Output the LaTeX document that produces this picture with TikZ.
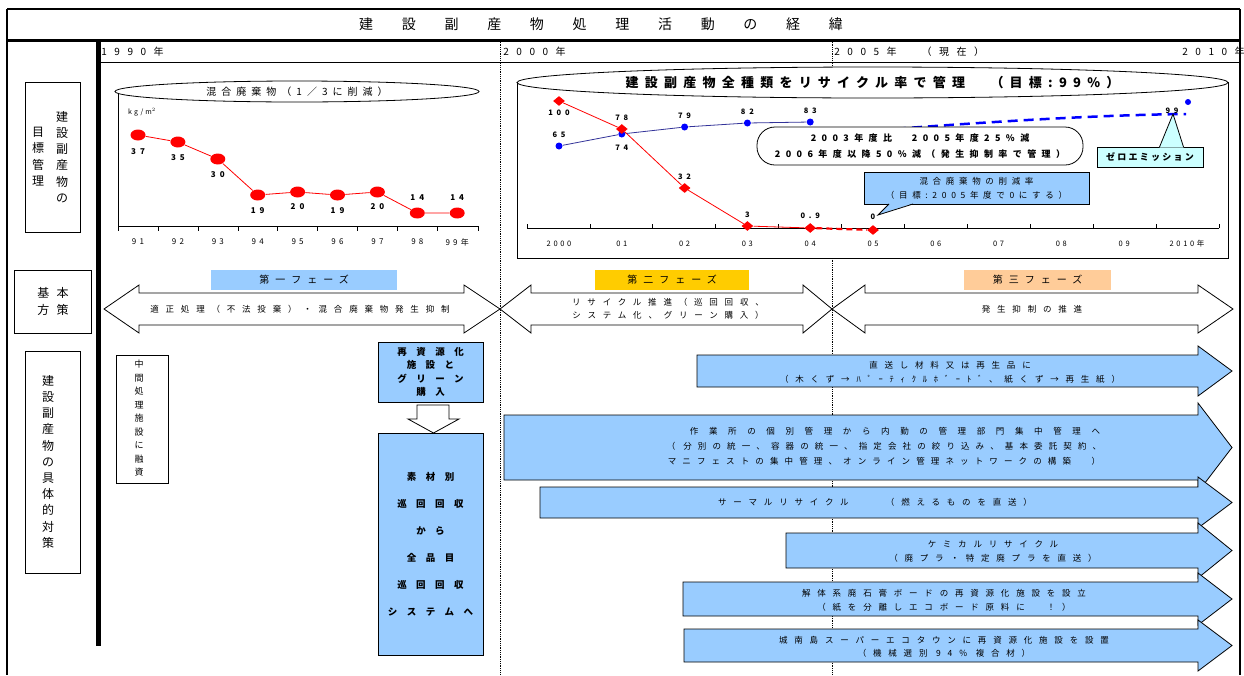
\documentclass[tikz,border=0pt]{standalone}
\usepackage{fontspec}
\setmainfont{Noto Sans CJK JP}
\usetikzlibrary{shapes.geometric, positioning}
\definecolor{phblue}{RGB}{153,204,255}
\definecolor{phgold}{RGB}{255,204,0}
\definecolor{phpeach}{RGB}{255,204,153}
\definecolor{emicyan}{RGB}{204,255,255}
\definecolor{rateblue}{RGB}{51,51,153}
\newcommand{\ls}[1]{\addfontfeature{LetterSpace=#1}}

\begin{document}
\begin{tikzpicture}[x=1pt, y=-1pt, line width=0.8pt,
  every node/.style={inner sep=0pt},
  txt/.style={font=\fontsize{8.5}{13}\selectfont\ls{80}, align=center},
  yr/.style={font=\fontsize{10}{12}\selectfont\ls{75}},
  vtxt/.style={font=\fontsize{12}{16.2}\selectfont, align=center, anchor=north},
  sidebox/.style={draw, rectangle, fill=white},
  val/.style={font=\fontsize{8}{9}\selectfont\bfseries\ls{50}},
  tickl/.style={font=\fontsize{8}{9}\selectfont\ls{40}},
  redpt/.style={ellipse, fill=red, minimum width=15, minimum height=11},
  reddia/.style={diamond, fill=red, minimum width=12, minimum height=10},
  bluept/.style={circle, fill=blue, minimum size=7},
  phase/.style={minimum height=20, font=\fontsize{10}{12}\selectfont\ls{60}},
  bold/.style={font=\fontsize{9.5}{13.3}\selectfont\bfseries\ls{100}, align=center}
]
\useasboundingbox (0,0) rectangle (1244,675);

% frame and time axis
\draw[line width=1.5pt] (7,9) -- (1240,9);
\draw[line width=1.5pt] (7,9) -- (7,675);
\draw[line width=1.5pt] (1240,9) -- (1240,675);
\draw[line width=3pt] (7,40) -- (1240,40);
\draw (98,62) -- (1240,62);
\draw[densely dotted] (500,40) -- (500,675);
\draw[densely dotted] (832,40) -- (832,675);
\draw[line width=5pt] (98,40) -- (98,646);

\node[font=\fontsize{14}{16}\selectfont\ls{205}] (title) at (601,24) {建設副産物処理活動の経緯};
\node[yr, anchor=west] (y1990) at (101,52) {1990年};
\node[yr, anchor=west] (y2000) at (503,52) {2000年};
\node[yr, anchor=west] (y2005) at (834,52) {2005年　（現在）};
\node[yr, anchor=east] (y2010) at (1245,52) {2010年};

% row headings
\node[sidebox, minimum width=55, minimum height=150] (goalbox) at (52.5,157) {};
\node[vtxt] (goal1) at (62,111) {建\\設\\副\\産\\物\\の};
\node[vtxt] (goal2) at (38,127) {目\\標\\管\\理};
\node[sidebox, minimum width=77, minimum height=63] (policybox) at (52.5,301.5) {};
\node[font=\fontsize{12}{17}\selectfont\ls{60}, align=center] (policy) at (53,301) {基本\\方策};
\node[sidebox, minimum width=55, minimum height=222] (measurebox) at (53,462) {};
\node[vtxt] (measure) at (48,375) {建\\設\\副\\産\\物\\の\\具\\体\\的\\対\\策};

% 1990s chart
\draw (118,92) -- (118,226) -- (478,226);
\foreach \x in {118,158,198,238,277,317,357,397,437,478}
  \draw (\x,226) -- (\x,231);
\node[draw, ellipse, fill=white, minimum width=364, minimum height=21,
  font=\fontsize{10}{11}\selectfont\ls{50}] (mixell) at (297,91.5) {混合廃棄物（1／3に削減）};
\node[font=\fontsize{7}{8}\selectfont\ls{30}] (unit) at (142,112) {kg/m$^2$};
\foreach \v/\yy/\ly/\t [count=\i] in {37/135/152/91, 35/142/158/92, 30/159/175/93,
    19/195/211/94, 20/192/207/95, 19/195/211/96, 20/192/207/97, 14/213/198/98, 14/213/198/99年} {
  \pgfmathsetmacro{\xx}{138+39.9*(\i-1)}
  \node[redpt] (m\i) at (\xx,\yy) {};
  \node[val] (mv\i) at (\xx,\ly) {\v};
  \node[tickl] (mt\i) at (\xx,242) {\t};
}
\draw[red] (m1) -- (m2) -- (m3) -- (m4) -- (m5) -- (m6) -- (m7) -- (m8) -- (m9);

% 2000s chart
\draw[fill=white] (517,82) rectangle (1228,258);
\node[draw, ellipse, fill=white, minimum width=711, minimum height=31,
  font=\fontsize{13}{15}\selectfont\bfseries\ls{48}] (allell) at (872.5,82.5)
  {建設副産物全種類をリサイクル率で管理　（目標:99\%）};
\draw (527,228) -- (1219,228);
\foreach \i in {0,...,11}
  \draw ({527+62.9*\i},228) -- ({527+62.9*\i},224);
\foreach \t [count=\i from 0] in {2000,01,02,03,04,05,06,07,08,09,2010年}
  \node[tickl, font=\fontsize{7.5}{9}\selectfont\ls{35}] (rt\i) at ({559+62.8*\i},244) {\t};

\foreach \yy/\v/\ly [count=\i from 0] in {146/65/135, 134/74/148, 127/79/116, 123/82/112, 122/83/111} {
  \node[bluept] (b\i) at ({559+62.8*\i},\yy) {};
  \node[val, font=\fontsize{7.5}{9}\selectfont\bfseries\ls{50}] (bv\i) at ({559+62.8*\i},\ly) {\v};
}
\draw[rateblue] (b0) -- (b1) -- (b2) -- (b3) -- (b4);
\coordinate (bstart) at (880,130);
\coordinate (b99) at (1186,114);
\draw[blue, line width=2.5pt, dash pattern=on 10pt off 6pt] (bstart) .. controls (1000,121) and (1100,115) .. (b99);
\node[bluept, minimum size=6] (bgoal) at (1188,102) {};
\node[val, font=\fontsize{7.5}{9}\selectfont\bfseries\ls{50}] (bv99) at (1172,111) {99};

\foreach \yy/\v/\ly [count=\i from 0] in {101/100/113, 129/78/118, 188/32/177, 226/3/215, 228/0.9/216, 230/0/217} {
  \node[reddia] (r\i) at ({559+62.8*\i},\yy) {};
  \node[val, font=\fontsize{7.5}{9}\selectfont\bfseries\ls{50}] (rv\i) at ({559+62.8*\i},\ly) {\v};
}
\draw[red] (r0) -- (r1) -- (r2) -- (r3) -- (r4);
\draw[red, line width=2.2pt, dash pattern=on 6pt off 4pt] (r4) -- (r5);

\node[draw, fill=white, rounded corners=18pt, minimum width=326, minimum height=38,
  font=\fontsize{9}{16}\selectfont\bfseries\ls{60}, align=center] (target) at (920,146)
  {2003年度比　2005年度25\%減\\2006年度以降50\%減（発生抑制率で管理）};

\node[draw, fill=emicyan, minimum width=106, minimum height=20,
  font=\fontsize{9}{11}\selectfont\bfseries\ls{25}] (zero) at (1150,157) {ゼロエミッション};
\fill[emicyan] (1159.5,147.5) -- (1173,114) -- (1183.5,147.5) -- cycle;
\draw (1159.5,147) -- (1173,114) -- (1183.5,147);

\node[draw, fill=phblue, minimum width=225, minimum height=32, txt,
  font=\fontsize{8.5}{14}\selectfont\ls{55}] (cutrate) at (976.5,188)
  {混合廃棄物の削減率\\（目標:2005年度で0にする）};
\fill[phblue] (889,203.5) -- (878,215) -- (913,203.5) -- cycle;
\draw (889,204) -- (878,215) -- (913,204);

% phases
\node[phase, fill=phblue, minimum width=186] (ph1) at (304,280) {第一フェーズ};
\node[phase, fill=phgold, minimum width=154] (ph2) at (672,280) {第二フェーズ};
\node[phase, fill=phpeach, minimum width=147] (ph3) at (1037.5,280) {第三フェーズ};
\foreach \a/\b/\c/\d in {104/139/464/500, 500/531/803/832, 832/865/1198/1233}
  \draw[fill=white] (\a,309) -- (\b,285) -- (\b,293) -- (\c,293) -- (\c,285) -- (\d,309)
    -- (\c,333) -- (\c,325) -- (\b,325) -- (\b,333) -- cycle;
\node[txt] (pol1) at (300,309) {適正処理（不法投棄）・混合廃棄物発生抑制};
\node[txt] (pol2) at (668,309) {リサイクル推進（巡回回収、\\システム化、グリーン購入）};
\node[txt] (pol3) at (1032,309) {発生抑制の推進};

% concrete measures, left
\node[sidebox, minimum width=52, minimum height=128] (midbox) at (142,419) {};
\node[vtxt, font=\fontsize{9}{13.5}\selectfont] (midtxt) at (139,360) {中\\間\\処\\理\\施\\設\\に\\融\\資};
\node[draw, fill=phblue, minimum width=105, minimum height=60, bold] (recyc) at (430.5,372)
  {再資源化\\施設と\\グリーン\\購入};
\draw[fill=white] (417,405) -- (449,405) -- (449,419) -- (459,419) -- (433.5,433)
  -- (408,419) -- (417,419) -- cycle;
\node[draw, fill=phblue, minimum width=105, minimum height=222, bold,
  font=\fontsize{9.5}{27}\selectfont\bfseries\ls{100}] (tour) at (430.5,544)
  {素材別\\巡回回収\\から\\全品目\\巡回回収\\システムへ};

% concrete measures, block arrows
\foreach \xl/\tp/\bt/\hx in {697/355/387/9, 504/415/480/12, 540/487/518/10,
    786/533/568/10, 683/582/616/9, 684/629/662/9} {
  \pgfmathsetmacro{\cy}{(\tp+\bt)/2}
  \draw[fill=phblue] (\xl,\tp) -- (1198,\tp) -- (1198,\tp-\hx) -- (1232,\cy)
    -- (1198,\bt+\hx) -- (1198,\bt) -- (\xl,\bt) -- cycle;
}
\node[txt, font=\fontsize{8.5}{14}\selectfont\ls{80}] (ms1) at (950,372)
  {直送し材料又は再生品に\\（木くず→ﾊﾟｰﾃｨｸﾙﾎﾞｰﾄﾞ、紙くず→再生紙）};
\node[txt, font=\fontsize{8.5}{15}\selectfont\ls{72}] (ms2) at (884,446)
  {{\hspace*{22pt}\ls{125}作業所の個別管理から内勤の管理部門集中管理へ}\\（ 分別の統一、容器の統一、指定会社の絞り込み、基本委託契約、\\マニフェストの集中管理、オンライン管理ネットワークの構築　）};
\node[txt] (ms3) at (875,502) {サーマルリサイクル　　（燃えるものを直送）};
\node[txt, font=\fontsize{8.5}{14}\selectfont\ls{80}] (ms4) at (993,551)
  {ケミカルリサイクル\\（廃プラ・特定廃プラを直送）};
\node[txt, font=\fontsize{8.5}{14}\selectfont\ls{80}] (ms5) at (944,600)
  {解体系廃石膏ボードの再資源化施設を設立\\（紙を分離しエコボード原料に　！）};
\node[txt, font=\fontsize{8.5}{13}\selectfont\ls{80}] (ms6) at (944,647)
  {城南島スーパーエコタウンに再資源化施設を設置\\（機械選別 94\% 複合材）};
\end{tikzpicture}
\end{document}
